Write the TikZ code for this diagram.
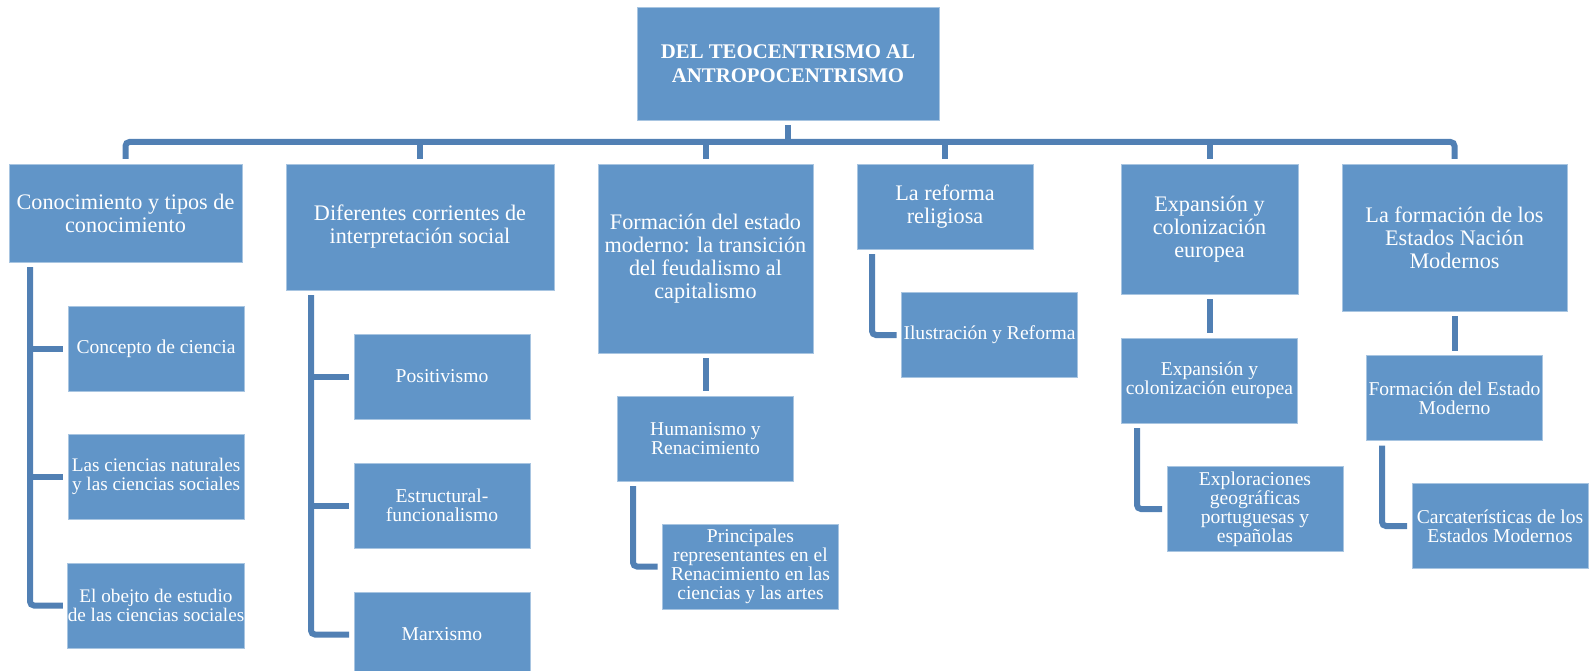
\documentclass[tikz,border=0pt]{standalone}
\usepackage{fontspec}
\setmainfont{Liberation Serif}
\usetikzlibrary{calc}
\definecolor{boxblue}{HTML}{6195C8}
\definecolor{lineblue}{HTML}{5180B4}

\begin{document}
\begin{tikzpicture}[x=1pt, y=-1pt,
    box/.style={fill=boxblue, draw=boxblue!55!white, line width=0.8pt, text=white,
        align=center, inner sep=0pt, outer sep=5pt},
    titlebox/.style={box, font=\fontsize{20.8}{23.5}\selectfont\bfseries},
    topic/.style={box, font=\fontsize{22.2}{23}\selectfont},
    subtopic/.style={box, minimum width=176pt, minimum height=85pt,
        font=\fontsize{19.6}{19}\selectfont},
    link/.style={draw=lineblue, line width=6pt, rounded corners=4pt}]
                \useasboundingbox (0,0) rectangle (1595,671);

                % Main title
                \node[titlebox, minimum width=302pt, minimum height=113pt] (tema) at (788,63.5)
                    {DEL TEOCENTRISMO AL\\ANTROPOCENTRISMO};

                % First level
                \node[topic, minimum width=233pt, minimum height=98pt] (c1) at (125.5,213)
                    {Conocimiento y tipos de\\conocimiento};
                \node[topic, minimum width=268pt, minimum height=126pt] (c2) at (420,227)
                    {Diferentes corrientes de\\interpretación social};
                \node[topic, minimum width=215pt, minimum height=189pt] (c3) at (705.5,258.5)
                    {Formación del estado\\moderno: la transición\\del feudalismo al\\capitalismo};
                \node[topic, minimum width=176pt, minimum height=85pt] (c4) at (945,206.5)
                    {La reforma\\religiosa};
                \node[topic, minimum width=177pt, minimum height=130pt] (c5) at (1209.5,229)
                    {Expansión y\\colonización\\europea};
                \node[topic, minimum width=225pt, minimum height=147pt] (c6) at (1454.5,237.5)
                    {La formación de los\\Estados Nación\\Modernos};

                % Second level
                \node[subtopic] (c1a) at (156,348.5) {Concepto de ciencia};
                \node[subtopic, font=\fontsize{19.2}{19}\selectfont] (c1b) at (156,476.5)
                    {Las ciencias naturales\\y las ciencias sociales};
                \node[subtopic, font=\fontsize{19.2}{19}\selectfont] (c1c) at (156,605.5)
                    {El obejto de estudio\\de las ciencias sociales};

                \node[subtopic] (c2a) at (442,376.5) {Positivismo};
                \node[subtopic] (c2b) at (442,505.5) {Estructural-\\funcionalismo};
                \node[subtopic] (c2c) at (442,634.5) {Marxismo};

                \node[subtopic] (c3a) at (705.5,438.5) {Humanismo y\\Renacimiento};
                \node[subtopic] (c3b) at (750.5,566.5)
                    {Principales\\representantes en el\\Renacimiento en las\\ciencias y las artes};

                \node[subtopic] (c4a) at (989.5,335) {Ilustración y Reforma};

                \node[subtopic] (c5a) at (1209.5,380.5) {Expansión y\\colonización europea};
                \node[subtopic] (c5b) at (1255,509)
                    {Exploraciones\\geográficas\\portuguesas y\\españolas};

                \node[subtopic] (c6a) at (1454.5,398) {Formación del Estado\\Moderno};
                \node[subtopic] (c6b) at (1500,526) {Carcaterísticas de los\\Estados Modernos};

                % Trunk and bus
                \coordinate (bus) at (788,142);
                \draw[link] (tema) -- (bus);
                \draw[link] (c1) |- (bus) -| (c6);
                \foreach \n in {c2,c3,c4,c5}
                    \draw[link] (\n) -- (\n |- bus);

                % Brackets under the topics
                \coordinate (s1) at (30,0);
                \coordinate (s2) at (311,0);
                \coordinate (s3) at (633,0);
                \coordinate (s4) at (872,0);
                \coordinate (s5) at (1137,0);
                \coordinate (s6) at (1382,0);

                \draw[link] (c1.south -| s1) |- (c1c);
                \draw[link] (c1a -| s1) -- (c1a);
                \draw[link] (c1b -| s1) -- (c1b);

                \draw[link] (c2.south -| s2) |- (c2c);
                \draw[link] (c2a -| s2) -- (c2a);
                \draw[link] (c2b -| s2) -- (c2b);

                \draw[link] (c3) -- (c3a);
                \draw[link] (c3a.south -| s3) |- (c3b);

                \draw[link] (c4.south -| s4) |- (c4a);

                \draw[link] (c5) -- (c5a);
                \draw[link] (c5a.south -| s5) |- (c5b);

                \draw[link] (c6) -- (c6a);
                \draw[link] (c6a.south -| s6) |- (c6b);
            \end{tikzpicture}
\end{document}
